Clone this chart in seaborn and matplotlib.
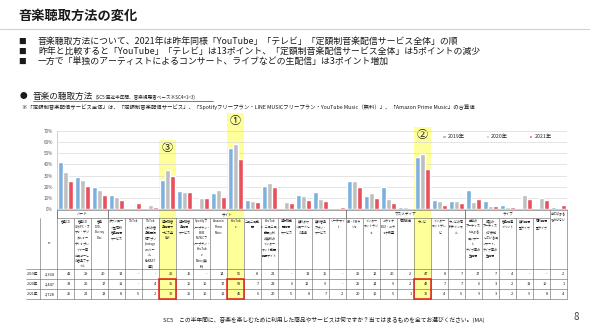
import numpy as np
import pandas as pd
import matplotlib
matplotlib.use("Agg")
import matplotlib.pyplot as plt
import seaborn as sns
from matplotlib.patches import Rectangle

# ---------------- data ----------------
categories = [
    "音楽CD",
    "音楽CD\nからPC・ス\nマホ・デジ\nタルオー\nディオプレ\nイヤー等\nにコピーし\nた音楽ファ\nイル",
    "音楽\nDVD、\nBlu-ray\nDisc",
    "ダウンロー\nド型有料\n音楽配信\nサービス",
    "TikTok",
    "TikTok\n以外の音\n楽動画投\n稿アプリ\n(Instagr\namリー\nル、\nKARAST\nA等)",
    "定額制音\n楽配信サ\nービス全\n体※",
    "定額制音\n楽配信\nサービス",
    "Spotifyフ\nリープラン・\nLINE\nMUSICフ\nリープラン・\nYouTub\ne\nMusic(無\n料)",
    "Amazon\nPrime\nMusic",
    "YouTub\ne",
    "ニコニコ動\n画",
    "YouTub\ne、ニコニコ\n動画以外\nの無料の\nインター\nネット動画\n配信サイト",
    "定額制動\n画配信\nサービス",
    "無料ダウ\nンロードし\nた楽曲",
    "無料音楽\nアプリ・\nサービス",
    "リーチサイ\nト",
    "AM・FMラ\nジオ",
    "インター\nネットラジ\nオ",
    "カラオケ\nBOX・カラ\nオケ教室",
    "有線放送",
    "テレビ",
    "インター\nネットテレ\nビ",
    "テレビの有\n料チャンネ\nル",
    "単独の\nアーティス\nトによる\nコンサー\nト、\nライブ等の\n生配信",
    "複数の\nアーティス\nトが参加\nしているコ\nンサート、\nライブ等の\n生配信",
    "音楽関連\nイベント",
    "無料配信\n型ライブ",
    "有料配信\n型ライブ",
    "当てはまる\nものはない",
]
years = ["2019年", "2020年", "2021年"]
v2019 = [42, 29, 20, 13, None, None, 26, 16, None, 14, 55, 8, 21, None, 13,
         15, None, 25, 12, 20, 2, 47, 8, 7, 17, 7, 4, None, None, 2]
v2020 = [33, 26, 17, 11, None, 4, 35, 15, 10, 17, 58, 7, 23, 6, 12,
         9, None, 25, 14, 9, 2, 49, 7, 7, 6, 3, 2, 13, 10, 1]
v2021 = [25, 21, 13, 8, 5, 2, 30, 15, 10, 11, 45, 6, 20, 5, 8,
         7, 2, 20, 10, 5, 1, 36, 4, 5, 9, 3, 2, 9, 8, 4]
n_values = ["2,334", "2,447", "2,728"]
group_names = ["ハード", "サイト", "マスメディア", "ライブ"]
group_spans = [(0, 3), (3, 17), (17, 24), (24, 29)]
highlight_cols = [6, 10, 21]
highlight_marks = ["③", "①", "②"]

title = "音楽聴取方法の変化"
bullets = [
    "音楽聴取方法について、2021年は昨年同様「YouTube」「テレビ」「定額制音楽配信サービス全体」の順",
    "昨年と比較すると「YouTube」「テレビ」は13ポイント、「定額制音楽配信サービス全体」は5ポイントの減少",
    "一方で「単独のアーティストによるコンサート、ライブなどの生配信」は3ポイント増加",
]
note = ("※「定額制音楽配信サービス全体」は、「定額制音楽配信サービス」、「Spotifyフリープラン・LINE MUSICフリープラン・"
        "YouTube Music（無料）」、「Amazon Prime Music」の合算値")
footer = "SC5　この半年間に、音楽を楽しむために利用した商品やサービスは何ですか？当てはまるものを全てお選びください。(MA)"

# ---------------- style ----------------
sns.set_theme(style="white")
plt.rcParams["font.family"] = ["Noto Sans CJK JP", "DejaVu Sans"]
colors = ["#7DB0DE", "#BFBFBF", "#E8505D"]

W, H = 590, 330
fig = plt.figure(figsize=(W / 100, H / 100), dpi=100)

# overlay axes in pixel coordinates
ov = fig.add_axes([0, 0, 1, 1], zorder=0)
ov.set_xlim(0, W)
ov.set_ylim(H, 0)
ov.axis("off")

# chart geometry (pixels)
X0, X1 = 57, 567
Y0, Y70 = 209, 131
ncol = len(categories)
cw = (X1 - X0) / ncol

ax = fig.add_axes([X0 / W, 1 - Y0 / H, (X1 - X0) / W, (Y0 - Y70) / H], zorder=1)
ax.patch.set_alpha(0)

rows = []
for y, vals in zip(years, [v2019, v2020, v2021]):
    for c, v in zip(categories, vals):
        rows.append({"cat": c, "year": y, "value": np.nan if v is None else v})
df = pd.DataFrame(rows).dropna()

sns.barplot(data=df, x="cat", y="value", hue="year", order=categories,
            hue_order=years, palette=colors, width=0.88, saturation=1,
            ax=ax, errorbar=None)
ax.set_xlim(-0.5, ncol - 0.5)
ax.set_ylim(0, 70)
ax.set_yticks(range(0, 71, 10))
ax.set_yticklabels([f"{v}%" for v in range(0, 71, 10)], fontsize=3.3, color="#595959")
ax.tick_params(axis="y", length=0, pad=3)
ax.set_xticks([])
ax.set_xlabel("")
ax.set_ylabel("")
ax.yaxis.grid(True, color="#D9D9D9", linewidth=0.5)
ax.set_axisbelow(True)
for s in ["top", "right"]:
    ax.spines[s].set_visible(False)
ax.spines["left"].set_color("#BFBFBF")
ax.spines["left"].set_linewidth(0.5)
ax.spines["bottom"].set_color("#BFBFBF")
ax.spines["bottom"].set_linewidth(0.5)

handles, labels = ax.get_legend_handles_labels()
ax.legend(handles, labels, loc="center", bbox_to_anchor=(497 / W, 1 - 137 / H),
          bbox_transform=fig.transFigure, ncol=3, frameon=False, fontsize=3.8,
          handlelength=0.6, handleheight=0.6, handletextpad=0.4, columnspacing=4.0)

# ---------------- header texts ----------------
ov.text(18, 16, title, fontsize=9.5, fontweight="bold", va="center", ha="left", color="#1a1a1a")
ov.plot([0, W], [29, 29], color="#C9D3DF", lw=0.8)
for i, b in enumerate(bullets):
    yy = 42 + 10 * i
    ov.text(18, yy, "■", fontsize=5.5, va="center", ha="left", color="#1a1a1a")
    ov.text(38, yy, b, fontsize=6.4, va="center", ha="left", color="#1a1a1a")

ov.text(20, 96, "●", fontsize=5.5, va="center", ha="left", color="#1a1a1a")
ov.text(33, 96, "音楽の聴取方法", fontsize=6.2, va="center", ha="left", color="#1a1a1a")
ov.text(96, 97, "(SC5:直近半年間、音楽視聴者ベース※SC4=1~3)", fontsize=3.3, va="center", ha="left", color="#1a1a1a")
ov.plot([33, 213], [101, 101], color="#1a1a1a", lw=0.4)
ov.text(22, 107, note, fontsize=3.85, va="center", ha="left", color="#1a1a1a")

# ---------------- highlights ----------------
TB = 299  # table bottom
hl_tops = [140, 113, 127]
for c, mark, top in zip(highlight_cols, highlight_marks, hl_tops):
    xl = X0 + c * cw
    ov.add_patch(Rectangle((xl, top), cw, TB - top, facecolor="#FFFF99",
                           edgecolor="none", zorder=0.5))
    ov.text(xl + cw / 2, top + 8, mark, fontsize=8, ha="center", va="center",
            color="#1a1a1a", zorder=3)

# ---------------- table ----------------
LC0, LC1 = 26, 40
GT, HT, HB = 210, 218, 269
row_lines = [HB, 279, 289, TB]
lc = "#606060"
lw = 0.4
hfs = 2.2  # header font size
# horizontal lines
ov.plot([X0, X1], [GT, GT], color=lc, lw=lw, zorder=2)
ov.plot([X0, X0 + (ncol - 1) * cw], [HT, HT], color=lc, lw=lw, zorder=2)
for yl in row_lines:
    ov.plot([LC0, X1], [yl, yl], color=lc, lw=lw, zorder=2)
# vertical lines
ov.plot([LC1, LC1], [HT, TB], color=lc, lw=lw, zorder=2)
ov.plot([X0, X0], [GT, TB], color=lc, lw=lw, zorder=2)
for i in range(1, ncol + 1):
    xl = X0 + i * cw
    ov.plot([xl, xl], [HT, TB], color=lc, lw=lw, zorder=2)
for (a, b) in group_spans:
    for e in (a, b):
        xl = X0 + e * cw
        ov.plot([xl, xl], [GT, HT], color=lc, lw=lw, zorder=2)
ov.plot([X1, X1], [GT, HT], color=lc, lw=lw, zorder=2)

for name, (a, b) in zip(group_names, group_spans):
    ov.text(X0 + (a + b) / 2 * cw, (GT + HT) / 2, name, fontsize=2.6,
            ha="center", va="center", color="#1a1a1a", zorder=3)

for i, c in enumerate(categories):
    top = GT + 1.2 if i == ncol - 1 else HT + 1.2
    ov.text(X0 + (i + 0.5) * cw, top, c, fontsize=hfs, ha="center", va="top",
            linespacing=1.55, color="#1a1a1a", zorder=3)

ov.text((LC1 + X0) / 2, (HT + HB) / 2, "n", fontsize=3.0, ha="center", va="center", color="#1a1a1a")

for r, (y, vals, n) in enumerate(zip(years, [v2019, v2020, v2021], n_values)):
    yc = (row_lines[r] + row_lines[r + 1]) / 2
    ov.text(LC0 + 1, yc, y, fontsize=2.6, ha="left", va="center", color="#1a1a1a", zorder=3)
    ov.text(X0 - 2, yc, n, fontsize=2.8, ha="right", va="center", color="#1a1a1a", zorder=3)
    for i, v in enumerate(vals):
        s = "-" if v is None else str(v)
        ov.text(X0 + (i + 1) * cw - 2.5, yc, s, fontsize=2.8, ha="right", va="center",
                color="#1a1a1a", zorder=3)

for c in highlight_cols:
    xl = X0 + c * cw
    ov.add_patch(Rectangle((xl, row_lines[1]), cw, TB - row_lines[1], facecolor="none",
                           edgecolor="#E01E1E", lw=1.1, zorder=4))

# ---------------- footer ----------------
ov.text(163, 320, footer, fontsize=4.15, ha="left", va="center", color="#1a1a1a")
ov.text(576, 317, "8", fontsize=7, ha="center", va="center", color="#404040")

fig.savefig("out.png", dpi=100)
